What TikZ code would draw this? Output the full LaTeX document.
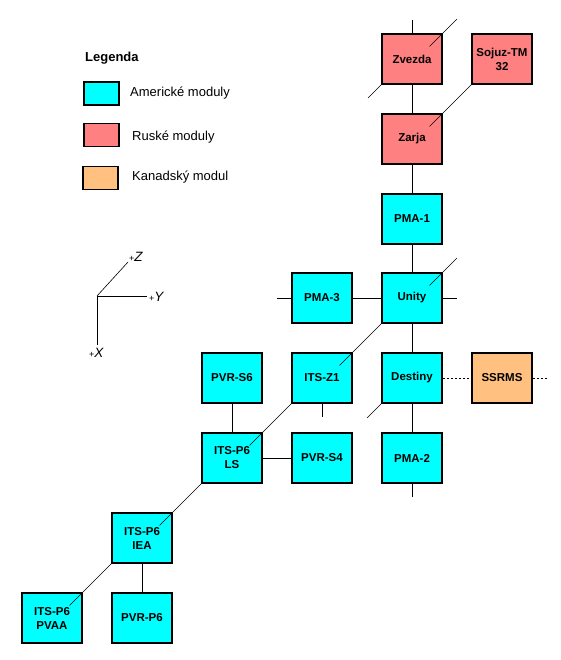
\documentclass[tikz,border=0pt]{standalone}
\usepackage{fontspec}
\setmainfont{Liberation Sans}
\usetikzlibrary{calc}
\definecolor{amer}{HTML}{00FFFF}
\definecolor{rus}{HTML}{FF8080}
\definecolor{kan}{HTML}{FFC080}
\begin{document}
\begin{tikzpicture}[x=1pt,y=-1pt,
  modbox/.style={draw=black,line width=1.2pt,minimum width=60pt,minimum height=50pt,inner sep=0pt,align=center,font=\fontsize{11.5}{14}\selectfont\bfseries},
  us/.style={modbox,fill=amer},
  ru/.style={modbox,fill=rus},
  ca/.style={modbox,fill=kan},
  legbox/.style={draw=black,line width=1.2pt,minimum width=35pt,minimum height=23pt,inner sep=0pt},
  legtext/.style={anchor=west,inner sep=0pt,font=\fontsize{13}{15}\selectfont},
  conn/.style={line width=1pt},
  diag/.style={line width=0.6pt},
  dotconn/.style={line width=1pt,dash pattern=on 2pt off 2pt},
  axlab/.style={inner sep=0pt,font=\fontsize{13.5}{15}\selectfont}
]
\useasboundingbox (0,0) rectangle (560,660);
\fill[white] (0,0) rectangle (560,660);

% legend
\node[anchor=west,inner sep=0pt,font=\fontsize{13}{15}\selectfont\bfseries] (legt) at (85,58) {Legenda};
\node[legbox,fill=amer] (lg1) at (101.5,93.5) {};
\node[legbox,fill=rus] (lg2) at (101.5,135) {};
\node[legbox,fill=kan] (lg3) at (100.5,178) {};
\node[legtext] (lt1) at (130,93) {Americké moduly};
\node[legtext] (lt2) at (132,137) {Ruské moduly};
\node[legtext] (lt3) at (132,177) {Kanadský modul};

% axes
\coordinate (o) at (97,296);
\coordinate (ay) at (147,296);
\coordinate (ax) at (97,345);
\coordinate (az) at (128,262);
\draw[conn] (o) -- (ay);
\draw[conn] (o) -- (ax);
\draw[diag] (o) -- (az);
\node[axlab,anchor=west] (ly) at (149,297) {{\fontsize{9}{10}\selectfont+}\textit{Y}};
\node[axlab,anchor=west] (lx) at (89,353) {{\fontsize{9}{10}\selectfont+}\textit{X}};
\node[axlab,anchor=west] (lz) at (129,257) {{\fontsize{9}{10}\selectfont+}\textit{Z}};

% modules
\node[ru] (zv) at (412,59) {Zvezda};
\node[ru] (sj) at (502,59) {Sojuz-TM\\32};
\node[ru] (zr) at (412,139) {Zarja};
\node[us] (p1) at (412,219) {PMA-1};
\node[us] (p3) at (322,298) {PMA-3};
\node[us] (un) at (412,298) {Unity};
\node[us] (z1) at (322,378) {ITS-Z1};
\node[us] (de) at (412,378) {Destiny};
\node[ca] (ss) at (502,378) {SSRMS};
\node[us] (s6) at (232,378) {PVR-S6};
\node[us] (ls) at (232,458) {ITS-P6\\LS};
\node[us] (s4) at (322,458) {PVR-S4};
\node[us] (p2) at (412,458) {PMA-2};
\node[us] (iea) at (142,538) {ITS-P6\\IEA};
\node[us] (pv) at (52,618) {ITS-P6\\PVAA};
\node[us] (r6) at (142,618) {PVR-P6};

% free ends
\coordinate (zvtop) at (412,20);
\coordinate (zvdiag) at (457,19);
\coordinate (zvdl) at (368,98);
\coordinate (undiag) at (457,258);
\coordinate (p3l) at (277,298);
\coordinate (unr) at (457,298);
\coordinate (z1b) at (322,417);
\coordinate (dedl) at (367,418);
\coordinate (p2b) at (412,497);
\coordinate (ssr) at (547,378);

% straight connectors
\draw[conn] (zvtop) -- (zv.north);
\draw[conn] (zv.south) -- (zr.north);
\draw[conn] (zr.south) -- (p1.north);
\draw[conn] (p1.south) -- (un.north);
\draw[conn] (un.south) -- (de.north);
\draw[conn] (de.south) -- (p2.north);
\draw[conn] (p2.south) -- (p2b);
\draw[conn] (p3l) -- (p3.west);
\draw[conn] (p3.east) -- (un.west);
\draw[conn] (un.east) -- (unr);
\draw[conn] (z1.south) -- (z1b);
\draw[conn] (s6.south) -- (ls.north);
\draw[conn] (ls.east) -- (s4.west);
\draw[conn] (iea.south) -- (r6.north);
\draw[dotconn] (de.east) -- (ss.west);
\draw[dotconn] (ss.east) -- (ssr);

% diagonal connectors
\draw[diag] (zvdiag) -- ($(zv.north east)+(-13,13)$);
\draw[diag] (zv.south west) -- (zvdl);
\draw[diag] (sj.south west) -- ($(zr.north east)+(-13,13)$);
\draw[diag] (undiag) -- ($(un.north east)+(-13,13)$);
\draw[diag] (un.south west) -- ($(z1.north east)+(-13,13)$);
\draw[diag] (z1.south west) -- ($(ls.north east)+(-13,13)$);
\draw[diag] (ls.south west) -- ($(iea.north east)+(-13,13)$);
\draw[diag] (iea.south west) -- ($(pv.north east)+(-13,13)$);
\draw[diag] (de.south west) -- (dedl);
\end{tikzpicture}
\end{document}
